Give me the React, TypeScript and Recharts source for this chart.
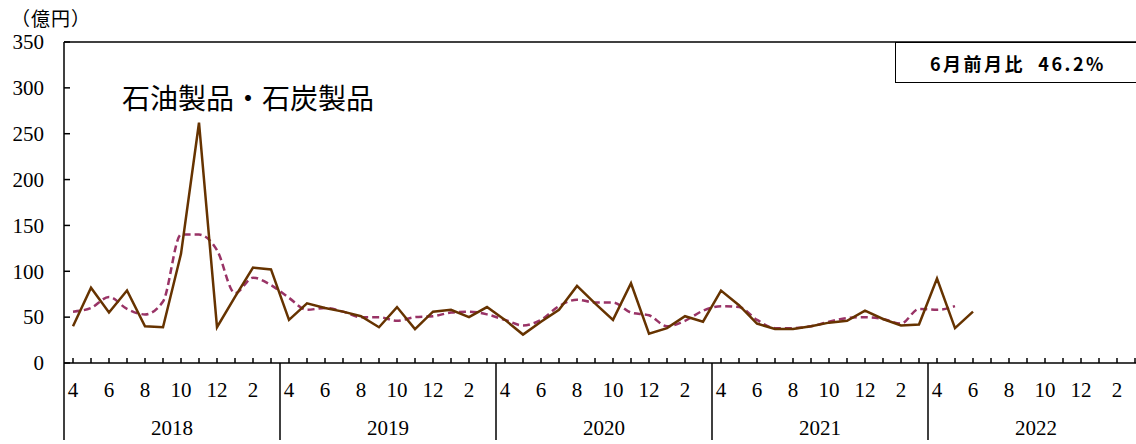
import { LineChart, Line, XAxis, YAxis, ReferenceLine } from "recharts";

const months = [4, 5, 6, 7, 8, 9, 10, 11, 12, 1, 2, 3];
const years = ["2018", "2019", "2020", "2021", "2022"];

// 石油製品・石炭製品（億円）
const sales = [
  40, 82, 55, 79, 40, 39, 119, 262, 39, 72, 104, 102,
  47, 65, 60, 56, 51, 39, 61, 37, 56, 58, 50, 61,
  47, 31, 45, 58, 84, 65, 47, 87, 32, 38, 51, 45,
  79, 63, 43, 37, 37, 40, 44, 46, 57, 48, 41, 42,
  92, 38, 56,
];

// 3か月移動平均（破線）
const movingAvg = [
  56, 60, 72, 59, 53, 67, 140, 140, 123, 76, 93, 85,
  71, 58, 60, 56, 50, 50, 46, 50, 51, 55, 56, 53,
  47, 41, 47, 62, 69, 66, 66, 55, 52, 40, 46, 57,
  62, 61, 47, 38, 38, 40, 45, 49, 50, 48, 43, 59,
  58, 62,
];

const yTicks = [0, 50, 100, 150, 200, 250, 300, 350];

const data = years.flatMap((year, yi) =>
  months.map((month, mi) => {
    const i = yi * 12 + mi;
    return {
      key: `${year}-${month}`,
      year,
      month,
      sales: sales[i] ?? null,
      avg: movingAvg[i] ?? null,
    };
  })
);

const CHART_W = 1150;
const CHART_H = 444;
const MARGIN = { top: 42, right: 6, left: 0, bottom: 0 };
const Y_W = 64;
const BAND = (CHART_W - Y_W - MARGIN.left - MARGIN.right) / data.length;
const SERIF = "'Liberation Serif', 'DejaVu Serif', serif";
const CJK = "'Noto Sans CJK JP', sans-serif";

const MonthTick = (props: any) => {
  const { x, y, payload } = props;
  const d = data.find((r) => r.key === payload.value);
  if (!d) return null;
  return (
    <g>
      <line x1={x} x2={x} y1={y} y2={y - 5} stroke="#000" strokeWidth={1.5} />
      {d.month % 2 === 0 && (
        <text x={x} y={y + 34} textAnchor="middle" fontFamily={SERIF} fontSize={21} fill="#000">
          {d.month}
        </text>
      )}
      {d.month === 4 && (
        <line x1={x - BAND / 2} x2={x - BAND / 2} y1={y} y2={y + 77} stroke="#000" strokeWidth={1.5} />
      )}
      {d.month === 9 && (
        <text x={x + BAND / 2} y={y + 72} textAnchor="middle" fontFamily={SERIF} fontSize={21} fill="#000">
          {d.year}
        </text>
      )}
    </g>
  );
};

const ValueTick = (props: any) => {
  const { x, y, payload } = props;
  return (
    <g>
      <line x1={x + 20} x2={x + 26} y1={y} y2={y} stroke="#000" strokeWidth={1.5} />
      <text x={x} y={y} dy="0.35em" textAnchor="end" fontFamily={SERIF} fontSize={21} fill="#000">
        {payload.value}
      </text>
    </g>
  );
};

export default function App() {
  return (
    <div
      style={{
        position: "absolute",
        left: 0,
        top: 0,
        width: 1136,
        height: 444,
        overflow: "hidden",
        background: "#fff",
      }}
    >
      <LineChart width={CHART_W} height={CHART_H} data={data} margin={MARGIN}>
        <XAxis
          dataKey="key"
          interval={0}
          padding={{ left: BAND / 2, right: BAND / 2 }}
          tick={<MonthTick />}
          tickLine={false}
          tickSize={0}
          tickMargin={0}
          height={81}
          axisLine={{ stroke: "#000", strokeWidth: 1.5 }}
        />
        <YAxis
          domain={[0, 350]}
          ticks={yTicks}
          width={Y_W}
          tick={<ValueTick />}
          tickLine={false}
          tickSize={0}
          tickMargin={20}
          axisLine={{ stroke: "#000", strokeWidth: 1.5 }}
        />
        <ReferenceLine y={350} stroke="#000" strokeWidth={1.5} />
        <Line
          type="monotone"
          dataKey="avg"
          stroke="#993366"
          strokeWidth={2.5}
          strokeDasharray="7 4"
          dot={false}
          isAnimationActive={false}
        />
        <Line
          type="linear"
          dataKey="sales"
          stroke="#663300"
          strokeWidth={2.5}
          dot={false}
          isAnimationActive={false}
        />
      </LineChart>

      <div style={{ position: "absolute", left: 11, top: 8, fontFamily: CJK, fontSize: 19, letterSpacing: 1, lineHeight: 1 }}>
        （億円）
      </div>
      <div style={{ position: "absolute", left: 122, top: 83, fontFamily: CJK, fontSize: 28, lineHeight: 1 }}>
        石油製品・石炭製品
      </div>
      <div
        style={{
          position: "absolute",
          left: 895,
          top: 42,
          width: 260,
          height: 41,
          boxSizing: "border-box",
          border: "1.5px solid #000",
          background: "#fff",
          paddingLeft: 34,
          display: "flex",
          alignItems: "center",
          fontFamily: CJK,
          fontSize: 18,
          fontWeight: 700,
          letterSpacing: 2.5,
          whiteSpace: "pre",
        }}
      >
        6月前月比  46.2%
      </div>
    </div>
  );
}
